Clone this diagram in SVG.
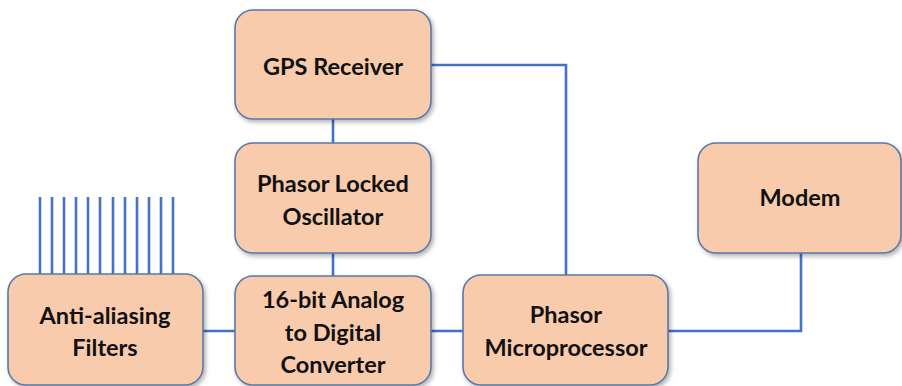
<svg xmlns="http://www.w3.org/2000/svg" width="902" height="386" viewBox="0 0 902 386">
  <style>
    .box { fill: #F8CBAD; stroke: #5A78A6; stroke-width: 1.6; filter: url(#shadow); }
    .wire { fill: none; stroke: #4472C4; stroke-width: 2.6; }
    .lbl { font-family: Lato, "Liberation Sans", sans-serif; font-weight: bold; font-size: 23.5px; fill: #111; text-anchor: middle; dominant-baseline: central; }
  </style>
  <defs>
    <filter id="shadow" x="-10%" y="-10%" width="125%" height="130%">
      <feDropShadow dx="2" dy="2.5" stdDeviation="2" flood-color="#000" flood-opacity="0.3"/>
    </filter>
  </defs>
  <rect width="902" height="386" fill="#fff"/>

  <g id="connectors">
    <!-- analog inputs into the filter bank -->
    <path class="wire" d="M40 197V274M52 197V274M64 197V274M76 197V274M88 197V274M100 197V274M113 197V274M125 197V274M137 197V274M149 197V274M161 197V274M173 197V274"/>
    <path class="wire" d="M203 331H236"/>
    <path class="wire" d="M333 119V143"/>
    <path class="wire" d="M333 253V276"/>
    <path class="wire" d="M431 331H463"/>
    <path class="wire" d="M431 65H566V275"/>
    <path class="wire" d="M668 331H801V253"/>
  </g>

  <g id="gps-receiver">
    <rect class="box" x="235" y="10" width="196" height="109" rx="18"/>
    <text class="lbl" x="333" y="66">GPS Receiver</text>
  </g>

  <g id="phasor-locked-oscillator">
    <rect class="box" x="235" y="143" width="196" height="110" rx="18"/>
    <text class="lbl" x="333" y="183">Phasor Locked</text>
    <text class="lbl" x="333" y="216">Oscillator</text>
  </g>

  <g id="anti-aliasing-filters">
    <rect class="box" x="8" y="274" width="195" height="111" rx="18"/>
    <text class="lbl" x="105" y="315">Anti-aliasing</text>
    <text class="lbl" x="105" y="347">Filters</text>
  </g>

  <g id="adc">
    <rect class="box" x="235" y="276" width="196" height="109" rx="18"/>
    <text class="lbl" x="333" y="299">16-bit Analog</text>
    <text class="lbl" x="333" y="332">to Digital</text>
    <text class="lbl" x="333" y="364">Converter</text>
  </g>

  <g id="phasor-microprocessor">
    <rect class="box" x="463" y="275" width="205" height="110" rx="18"/>
    <text class="lbl" x="566" y="314">Phasor</text>
    <text class="lbl" x="566" y="347">Microprocessor</text>
  </g>

  <g id="modem">
    <rect class="box" x="698" y="143" width="203" height="110" rx="18"/>
    <text class="lbl" x="800" y="197">Modem</text>
  </g>
</svg>
